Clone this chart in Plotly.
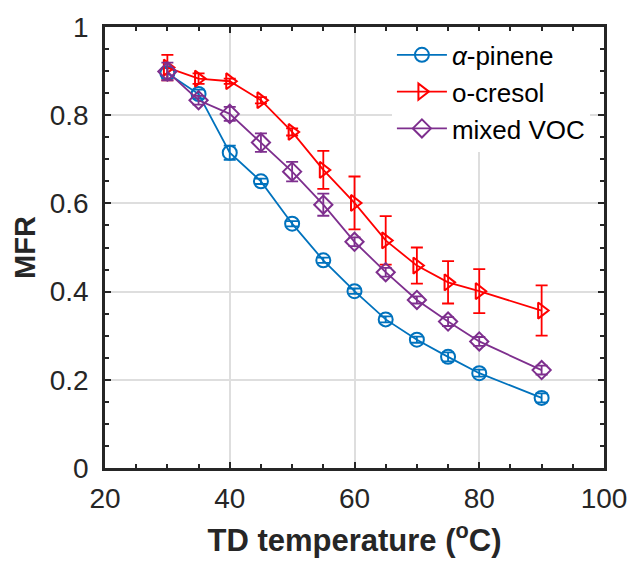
import plotly.graph_objects as go

temps = [30, 35, 40, 45, 50, 55, 60, 65, 70, 75, 80, 90]

pinene = [0.895, 0.848, 0.715, 0.650, 0.554, 0.471, 0.401, 0.337, 0.291, 0.252, 0.215, 0.159]
pinene_err = [0.012, 0.010, 0.016, 0.006, 0.006, 0.006, 0.006, 0.007, 0.007, 0.010, 0.008, 0.010]

cresol = [0.908, 0.883, 0.877, 0.834, 0.762, 0.676, 0.601, 0.516, 0.459, 0.421, 0.401, 0.357]
cresol_err = [0.029, 0.012, 0.006, 0.007, 0.008, 0.043, 0.060, 0.055, 0.041, 0.048, 0.050, 0.057]

mixed = [0.899, 0.834, 0.803, 0.738, 0.672, 0.597, 0.513, 0.444, 0.381, 0.332, 0.287, 0.222]
mixed_err = [0.020, 0.010, 0.016, 0.021, 0.022, 0.025, 0.010, 0.010, 0.008, 0.010, 0.010, 0.010]

series = [
    ("<i>α</i>-pinene", pinene, pinene_err, "#0072BD", "circle-open"),
    ("o-cresol", cresol, cresol_err, "#FF0000", "triangle-right-open"),
    ("mixed VOC", mixed, mixed_err, "#7E2F8E", "diamond-open"),
]

FONT = "Liberation Sans, Arial, sans-serif"

fig = go.Figure()
for name, y, e, c, sym in series:
    fig.add_trace(go.Scatter(
        x=temps, y=y, name=name, mode="lines+markers",
        line=dict(color=c, width=1.8),
        marker=dict(symbol=sym, size=14, color=c, line=dict(color=c, width=2)),
        error_y=dict(type="data", array=e, visible=True, color=c, thickness=1.8, width=6),
    ))

axis_common = dict(
    showline=True, linecolor="#262626", linewidth=2.5, mirror="ticks",
    ticks="inside", ticklen=6, tickwidth=2, tickcolor="#262626",
    showgrid=True, gridcolor="#dedede", gridwidth=2,
    zeroline=False,
    tickfont=dict(family=FONT, size=28, color="#262626"),
)

fig.update_xaxes(
    range=[20, 100], dtick=20, tick0=20,
    minor=dict(dtick=5, ticks="inside", ticklen=4, tickwidth=2, tickcolor="#262626", showgrid=False),
    ticklabelstandoff=4,
    title=dict(text="<b>TD temperature (<sup>o</sup>C)</b>", font=dict(family=FONT, size=31, color="#262626"), standoff=16),
    **axis_common,
)
fig.update_yaxes(
    range=[0, 1], dtick=0.2, tick0=0,
    minor=dict(dtick=0.05, ticks="inside", ticklen=4, tickwidth=2, tickcolor="#262626", showgrid=False),
    ticklabelstandoff=8,
    title=dict(text="<b>MFR</b>", font=dict(family=FONT, size=29, color="#262626"), standoff=6),
    **axis_common,
)

fig.update_layout(
    width=639, height=568,
    margin=dict(l=105, r=26, t=22, b=100),
    paper_bgcolor="white", plot_bgcolor="white",
    showlegend=True,
    legend=dict(
        x=0.575, y=0.99, xanchor="left", yanchor="top",
        bgcolor="white", borderwidth=0,
        font=dict(family=FONT, size=26, color="#000000"),
        itemwidth=50, tracegroupgap=0,
    ),
)

fig.write_html("out.html")
